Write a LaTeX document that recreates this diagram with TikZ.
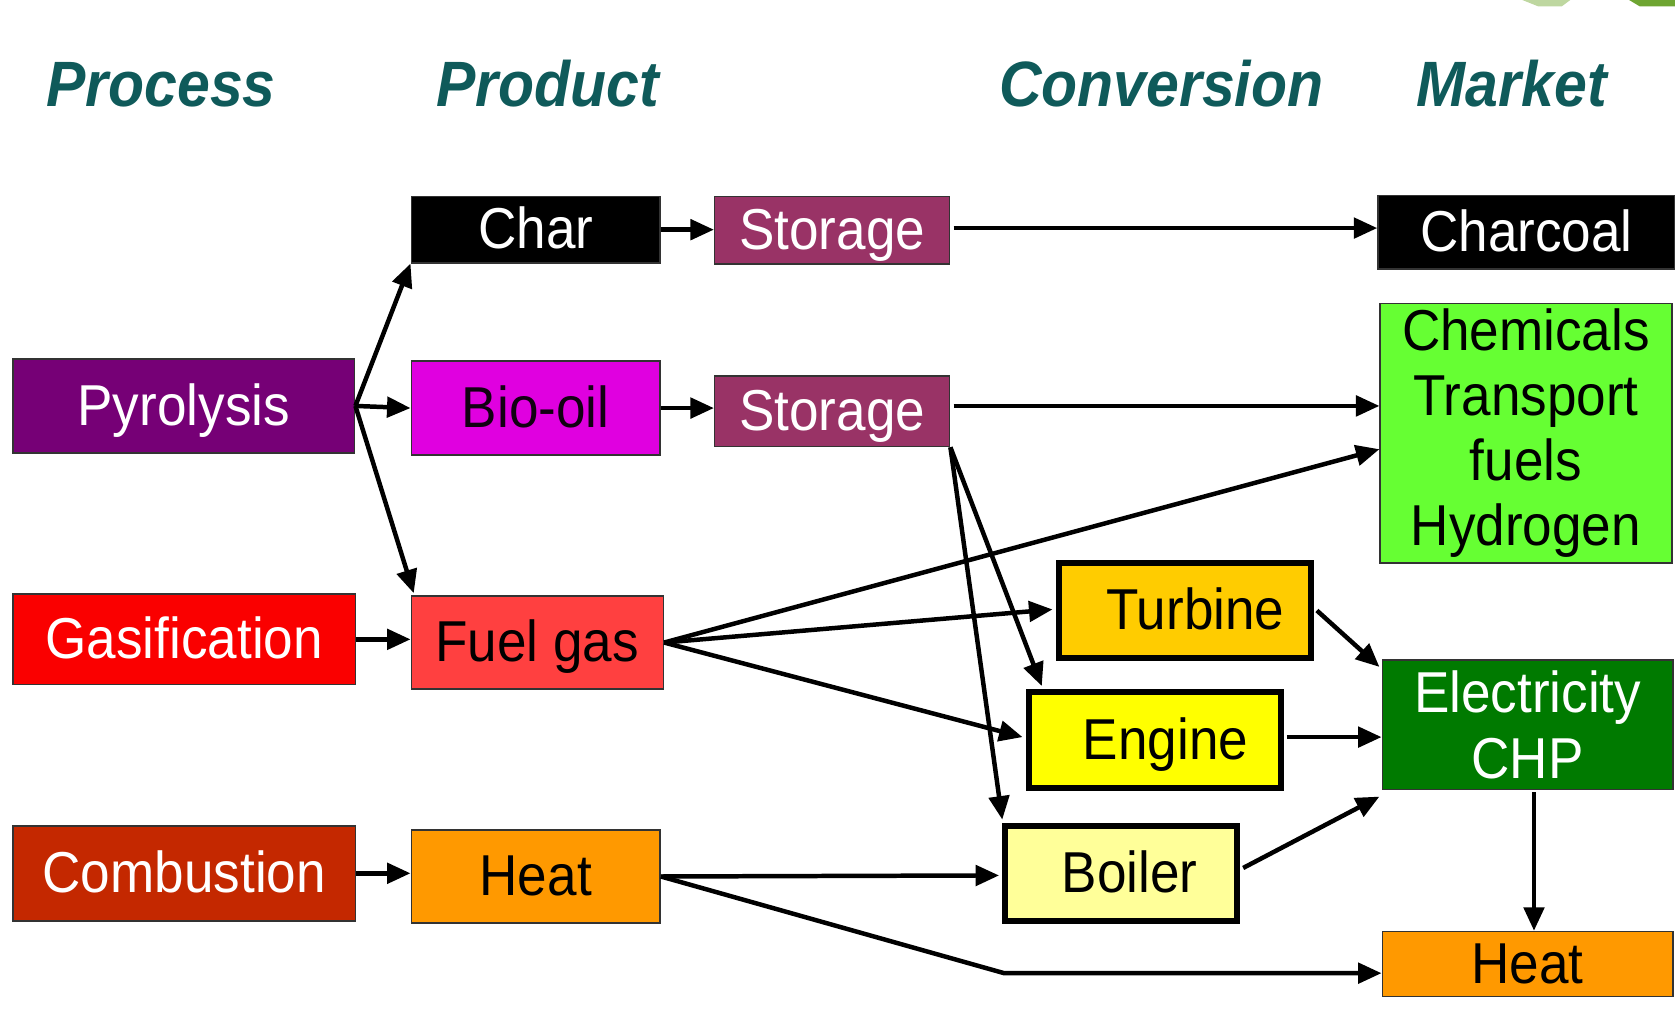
\documentclass[tikz,border=0pt]{standalone}
\usepackage{fontspec}
\setmainfont{Liberation Sans}[FakeStretch=0.92]
\usetikzlibrary{arrows.meta,calc}
\definecolor{hdr}{RGB}{15,90,90}
\definecolor{cpyr}{RGB}{118,0,118}
\definecolor{cgas}{RGB}{250,0,0}
\definecolor{ccomb}{RGB}{196,40,0}
\definecolor{cbio}{RGB}{224,0,224}
\definecolor{cfuel}{RGB}{255,64,64}
\definecolor{cheat}{RGB}{255,153,0}
\definecolor{csto}{RGB}{153,51,102}
\definecolor{cchem}{RGB}{102,255,51}
\definecolor{cturb}{RGB}{255,204,0}
\definecolor{ceng}{RGB}{255,255,0}
\definecolor{cboil}{RGB}{255,255,153}
\definecolor{celec}{RGB}{0,122,0}
\definecolor{leafa}{RGB}{190,215,160}
\definecolor{leafb}{RGB}{110,165,50}
\tikzset{
  box/.style={rectangle, draw=black!80, line width=1.4pt, inner sep=0pt,
    font=\fontsize{54}{61}\selectfont, align=center},
  one/.style={text height=39pt, text depth=3pt},
  thick box/.style={box, draw=black, line width=5.5pt},
  hd/.style={anchor=base west, inner sep=0pt, text=hdr,
    font=\fontsize{60}{60}\selectfont\bfseries\itshape},
  arr/.style={line width=4.2pt, -{Triangle[length=22pt,width=19pt]}}
}
\begin{document}
\begin{tikzpicture}[x=1pt,y=-1pt]
\useasboundingbox (0,0) rectangle (1568,955);
% top-right decoration
\fill[leafa] (1425,0) -- (1470,0) -- (1462,6) -- (1440,6) -- cycle;
\fill[leafb] (1525,0) -- (1568,0) -- (1568,6) -- (1535,6) -- cycle;
% headings
\node[hd] (h1) at (43,100) {Process};
\node[hd] (h2) at (408,100) {Product};
\node[hd] (h3) at (935,100) {Conversion};
\node[hd] (h4) at (1326,100) {Market};
% process
\node[box, one, fill=cpyr, text=white, minimum width=320, minimum height=88] (pyr) at (172,380) {Pyrolysis};
\node[box, one, fill=cgas, text=white, minimum width=321, minimum height=85] (gas) at (172.5,598.5) {Gasification};
\node[box, one, fill=ccomb, text=white, minimum width=321, minimum height=89] (comb) at (172.5,817.5) {Combustion};
% product
\node[box, one, fill=black, text=white, minimum width=233, minimum height=62] (char) at (501.5,215) {Char};
\node[box, one, fill=cbio, text={black!85!cpyr}, minimum width=233, minimum height=88] (bio) at (501.5,382) {Bio-oil};
\node[box, one, fill=cfuel, text=black, minimum width=236, minimum height=87] (fuel) at (503,601.5) {Fuel gas};
\node[box, one, fill=cheat, text=black, minimum width=233, minimum height=87] (heata) at (501.5,820.5) {Heat};
% storage
\node[box, one, fill=csto, text=white, minimum width=220, minimum height=63] (stoa) at (779,215.5) {Storage};
\node[box, one, fill=csto, text=white, minimum width=220, minimum height=66] (stob) at (779,385) {Storage};
% conversion
\node[thick box, one, fill=cturb, text=black, minimum width=236, minimum height=89] (turb) at (1109,571.5) {\hspace*{20pt}Turbine};
\node[thick box, one, fill=ceng, text=black, minimum width=236, minimum height=90] (eng) at (1081,693) {\hspace*{20pt}Engine};
\node[thick box, one, fill=cboil, text=black, minimum width=217, minimum height=89] (boil) at (1049.5,817.5) {\hspace*{16pt}Boiler};
% market
\node[box, one, fill=black, text=white, minimum width=278, minimum height=69] (charc) at (1429,217.5) {Charcoal};
\node[box, fill=cchem, text=black, minimum width=273, minimum height=243] (chem) at (1428.5,405.5) {Chemicals\\Transport\\fuels\\Hydrogen};
\node[box, fill=celec, text=white, minimum width=272, minimum height=121] (elec) at (1430,678.5) {Electricity\\CHP};
\node[box, one, fill=cheat, text=black, minimum width=272, minimum height=61] (heatb) at (1430,902.5) {Heat};
% connectors
\draw[arr] (pyr.east) -- (char.south west);
\draw[arr] (pyr.east) -- (bio.west);
\draw[arr] (pyr.east) -- ($(fuel.north west)+(3,-2)$);
\draw[arr] (gas.east) -- (gas.east -| fuel.west);
\draw[arr] (comb.east) -- (comb.east -| heata.west);
\draw[arr] (char.east) -- (char.east -| stoa.west);
\draw[arr] (bio.east) -- (bio.east -| stob.west);
\draw[arr] ($(stoa.east)+(3,-2)$) -- ($(stoa.east -| charc.west)+(0,-2)$);
\draw[arr] ($(stob.east)+(3,-5)$) -- ($(stob.east -| chem.west)+(0,-5)$);
\draw[arr] (fuel.east) -- ($(chem.west)+(0,15)$);
\draw[arr] (fuel.east) -- ($(turb.west)+(-3,-1)$);
\draw[arr] (fuel.east) -- ($(eng.west)+(-3,-3)$);
\draw[arr] (stob.south east) -- ($(eng.north west)+(15,-3)$);
\draw[arr] (stob.south east) -- ($(boil.north west)+(0,-3)$);
\draw[arr] (heata.east) -- ($(boil.west)+(-3,2)$);
\coordinate (bend) at (940,911);
\draw[arr] (heata.east) -- (bend) -- (bend -| heatb.west);
\draw[arr] ($(turb.east)+(3,0)$) -- ($(elec.north west)+(-2,7)$);
\draw[arr] ($(eng.east)+(3,-3)$) -- ($(eng.east -| elec.west)+(0,-3)$);
\draw[arr] ($(boil.east)+(3,-5)$) -- ($(elec.south west)+(-2,6)$);
\draw[arr] ($(elec.south)+(6,2)$) -- ($(heatb.north)+(6,0)$);
\end{tikzpicture}
\end{document}
